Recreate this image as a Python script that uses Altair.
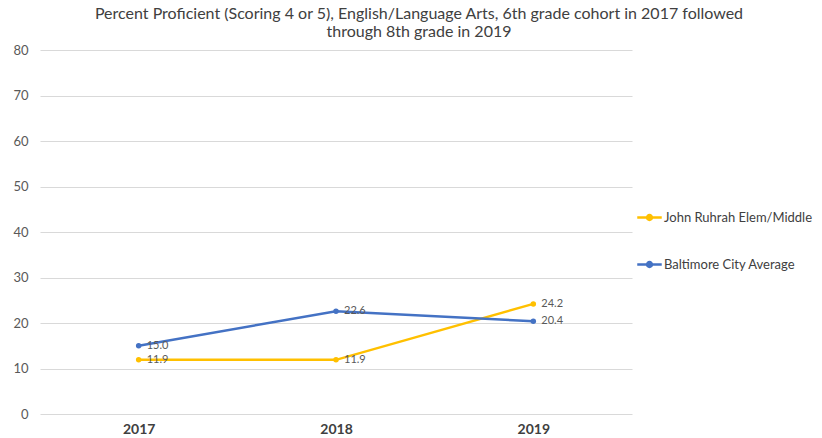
import altair as alt
import pandas as pd

years = ["2017", "2018", "2019"]
series_names = ["John Ruhrah Elem/Middle", "Baltimore City Average"]
ruhrah = [11.9, 11.9, 24.2]
baltimore = [15.0, 22.6, 20.4]
colors = ["#FFC000", "#4472C4"]

rows = []
for name, vals in zip(series_names, [ruhrah, baltimore]):
    for y, v in zip(years, vals):
        rows.append({"Year": y, "Series": name, "Value": v, "Label": f"{v:.1f}"})
df = pd.DataFrame(rows)

FONT = "Lato"

x_enc = alt.X("Year:N", sort=years, scale=alt.Scale(type="point", padding=0.5),
              axis=alt.Axis(title=None, labelAngle=0, labelFontSize=14, labelFontWeight="bold",
                            labelColor="#404040", labelPadding=8, domain=False, ticks=False,
                            grid=False, labelFont=FONT))
y_enc = alt.Y("Value:Q", scale=alt.Scale(domain=[0, 80], nice=False),
              axis=alt.Axis(title=None, values=list(range(0, 90, 10)), labelFontSize=13,
                            labelColor="#595959", labelPadding=12, domain=False, ticks=False,
                            gridColor="#D9D9D9", gridWidth=1, labelFont=FONT))
color_enc = alt.Color("Series:N", scale=alt.Scale(domain=series_names, range=colors),
                      legend=alt.Legend(title=None, orient="none", legendX=596, legendY=154,
                                        labelFontSize=13, labelColor="#404040", labelFont=FONT,
                                        rowPadding=26, symbolStrokeWidth=2.5,
                                        symbolType="M-1,0L1,0M-0.2,0A0.2,0.2 0 1,1 0.2,0A0.2,0.2 0 1,1 -0.2,0",
                                        symbolSize=600, labelOffset=1))

base = alt.Chart(df)
lines = base.mark_line(strokeWidth=2.5, point=alt.OverlayMarkDef(size=30, filled=True)).encode(
    x=x_enc, y=y_enc, color=color_enc)
labels = base.mark_text(align="left", dx=8, dy=0, fontSize=11, color="#595959", font=FONT).encode(
    x=alt.X("Year:N", sort=years), y=alt.Y("Value:Q"), text="Label:N")

chart = alt.layer(lines, labels).properties(
    width=592, height=364,
    padding={"left": 32, "top": 42, "right": 182, "bottom": 22},
    autosize=alt.AutoSizeParams(type="none"),
    background="white",
    title=alt.TitleParams(
        ["Percent Proficient (Scoring 4 or 5), English/Language Arts, 6th grade cohort in 2017 followed",
         "through 8th grade in 2019"],
        fontSize=16, fontWeight="normal", color="#404040", font=FONT, anchor="middle",
        dx=83, offset=4, lineHeight=18),
).configure_view(strokeWidth=0, stroke="transparent").configure_axis(domain=False)

chart.save("out.html", embed_options={"renderer": "svg", "actions": False})
